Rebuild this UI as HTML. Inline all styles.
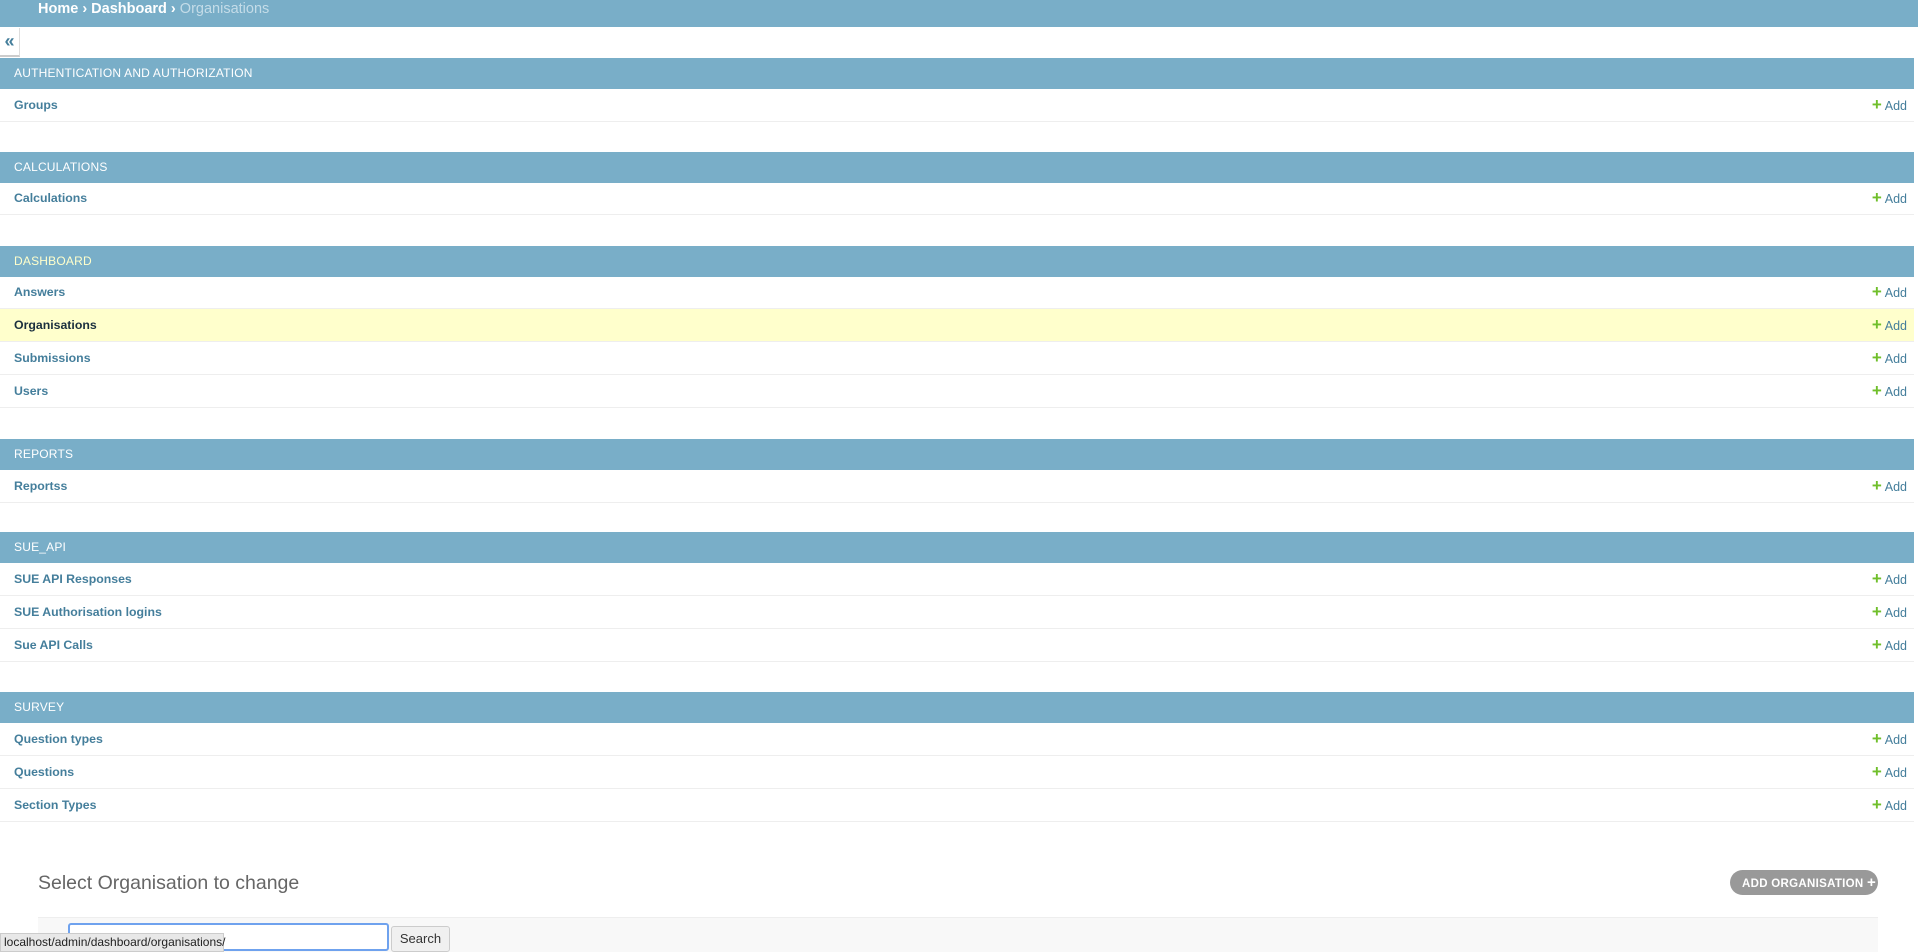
<!DOCTYPE html>
<html><head><meta charset="utf-8"><style>
*{margin:0;padding:0;box-sizing:border-box}
body{width:1918px;height:952px;overflow:hidden;background:#fff;font-family:"Liberation Sans",sans-serif;position:relative}
.a{position:absolute}
.bc{left:0;top:0;width:1918px;height:27px;background:#79aec8;color:#fff;font-size:14.5px;font-weight:bold;padding-left:38px;line-height:19px}
.bc span{color:#c4dce8;font-weight:normal}
.tg{left:0;top:28px;width:20px;height:29px;border-right:1px solid #ddd;border-bottom:2px solid #ccc;color:#447e9b;font-size:18px;line-height:26px;text-align:center;font-weight:bold}
.h{left:0;width:1914px;height:31px;background:#79aec8;color:#fff;font-size:12px;letter-spacing:.2px;padding-left:14px;line-height:31px}
.r{left:0;width:1914px;height:33px;border-bottom:1px solid #eee;font-size:12.3px;font-weight:bold;color:#447e9b;padding-left:14px;line-height:32px}
.r b{position:absolute;right:7px;top:0;font-weight:normal;color:#447e9b;font-size:12.5px}
.r b i{font-style:normal;color:#70bf2b;font-weight:bold;font-size:17px;margin-right:3px}
.y{background:#ffc;color:#1a2f3e}
</style></head><body>
<div class="a bc">Home › Dashboard › <span>Organisations</span></div>
<div class="a tg">«</div>

<div class="a h" style="top:58px">AUTHENTICATION AND AUTHORIZATION</div>
<div class="a r" style="top:89px">Groups<b><i>+</i>Add</b></div>

<div class="a h" style="top:152px">CALCULATIONS</div>
<div class="a r" style="top:182px">Calculations<b><i>+</i>Add</b></div>

<div class="a h" style="top:246px;color:#ffc">DASHBOARD</div>
<div class="a r" style="top:276px">Answers<b><i>+</i>Add</b></div>
<div class="a r y" style="top:309px">Organisations<b><i>+</i>Add</b></div>
<div class="a r" style="top:342px">Submissions<b><i>+</i>Add</b></div>
<div class="a r" style="top:375px">Users<b><i>+</i>Add</b></div>

<div class="a h" style="top:439px">REPORTS</div>
<div class="a r" style="top:470px">Reportss<b><i>+</i>Add</b></div>

<div class="a h" style="top:532px">SUE_API</div>
<div class="a r" style="top:563px">SUE API Responses<b><i>+</i>Add</b></div>
<div class="a r" style="top:596px">SUE Authorisation logins<b><i>+</i>Add</b></div>
<div class="a r" style="top:629px">Sue API Calls<b><i>+</i>Add</b></div>

<div class="a h" style="top:692px">SURVEY</div>
<div class="a r" style="top:723px">Question types<b><i>+</i>Add</b></div>
<div class="a r" style="top:756px">Questions<b><i>+</i>Add</b></div>
<div class="a r" style="top:789px">Section Types<b><i>+</i>Add</b></div>

<div class="a" style="left:38px;top:872px;font-size:19.5px;color:#666">Select Organisation to change</div>
<div class="a" style="left:1730px;top:870px;width:148px;height:25px;border-radius:13px;background:#999;color:#fff;font-size:11.5px;font-weight:bold;letter-spacing:.3px;line-height:25px;padding-left:12px;white-space:nowrap">ADD ORGANISATION <span style="font-size:15px">+</span></div>
<div class="a" style="left:38px;top:917px;width:1840px;height:35px;background:#f8f8f8;border-top:1px solid #eee"></div>
<div class="a" style="left:68px;top:923px;width:321px;height:28px;border:2px solid #6fa2ee;border-radius:3px;background:#fff"></div>
<div class="a" style="left:391px;top:926px;width:59px;height:26px;border:1px solid #ccc;border-radius:3px;background:#f0f0f0;font-size:13px;line-height:24px;text-align:center;color:#333">Search</div>
<div class="a" style="left:0;top:933px;width:224px;height:19px;background:#e8e8e8;border:1px solid #ccc;font-size:12px;line-height:17px;padding-left:3px;color:#222">localhost/admin/dashboard/organisations/</div>
</body></html>
